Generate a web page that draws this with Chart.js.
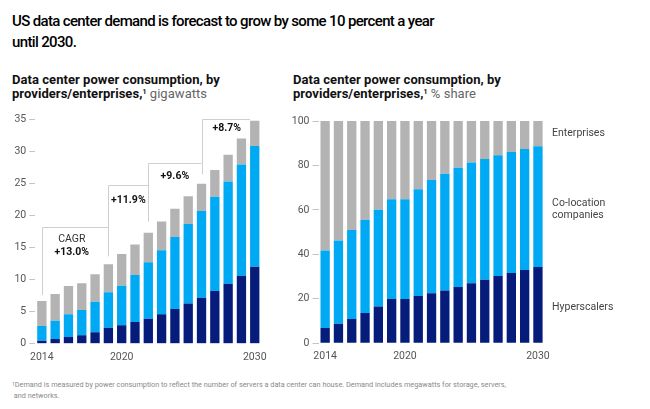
<!DOCTYPE html>
<html><head><meta charset="utf-8">
<script src="https://cdn.jsdelivr.net/npm/chart.js@4.4.1/dist/chart.umd.min.js"></script>
<style>
body{margin:0;background:#fff;width:650px;height:409px;overflow:hidden;position:relative;font-family:Roboto,"Liberation Sans",sans-serif;}
.title{position:absolute;left:12px;top:11px;font-size:15px;font-weight:500;line-height:21px;color:#000;letter-spacing:-0.65px;white-space:nowrap;}
.sub{position:absolute;top:73px;font-size:13px;font-weight:700;line-height:13.5px;color:#111;white-space:nowrap;letter-spacing:0.05px;}
.sub .u{font-weight:400;color:#666;}
.sub sup{font-size:7px;vertical-align:top;position:relative;top:-1px;font-weight:700;}
.foot{position:absolute;left:12px;top:379px;font-size:7.3px;color:#8a8a8a;line-height:11px;white-space:nowrap;}
.foot sup{font-size:5px;vertical-align:top;}
canvas{position:absolute;top:100px;}
#c1{left:0;}
#c2{left:280px;}
</style></head>
<body>
<div class="title">US data center demand is forecast to grow by some 10 percent a year<br>until 2030.</div>
<div class="sub" style="left:12px">Data center power consumption, by<br>providers/enterprises,<sup>1</sup> <span class="u">gigawatts</span></div>
<div class="sub" style="left:293px">Data center power consumption, by<br>providers/enterprises,<sup>1</sup> <span class="u">% share</span></div>
<div class="foot"><sup>1</sup>Demand is measured by power consumption to reflect the number of servers a data center can house. Demand includes megawatts for storage, servers,<br>&nbsp;and networks.</div>
<canvas id="c1" width="280" height="270"></canvas>
<canvas id="c2" width="370" height="270"></canvas>
<script>
const years = ['2014','2015','2016','2017','2018','2019','2020','2021','2022','2023','2024','2025','2026','2027','2028','2029','2030'];
const shownYears = ['2014','2020','2030'];

// Gigawatts
const hyperGW = [0.47,0.73,1.04,1.30,1.77,2.49,2.86,3.37,3.89,4.57,5.40,6.28,7.17,8.20,9.35,10.60,12.00];
const colocGW = [2.28,2.85,3.53,3.94,4.77,5.51,6.17,7.33,8.78,9.97,11.21,12.36,13.49,14.70,15.93,17.33,18.79];
const enterGW = [3.90,4.16,4.41,4.16,4.26,4.36,4.94,4.77,4.62,4.51,4.42,4.31,4.26,4.15,4.16,4.05,3.94];

// % share
const hyperPct = [6.9,8.8,10.9,13.6,16.5,19.9,19.9,21.3,22.5,23.8,25.3,27.0,28.6,30.3,31.6,33.0,34.3];
const colocPct = [34.9,37.5,40.1,42.0,43.6,44.9,44.9,48.0,51.0,52.5,53.7,54.3,54.3,54.3,54.5,54.4,54.3];
const enterPct = [58.2,53.7,49.0,44.4,39.9,35.2,35.2,30.7,26.5,23.7,21.0,18.7,17.1,15.4,13.9,12.6,11.4];

const leftTicks = [0,5,10,15,20,25,30,35];
const rightTicks = [0,20,40,60,80,100];

// CAGR brackets
const bracketIdx = [0,5,8,12,16];
const bracketBase = [7.6,13.6,19.0,26.4];
const bracketLevel = [18.2,24.7,28.2,35.0];
const cagrLabels = ['+13.0%','+11.9%','+9.6%','+8.7%'];
const cagrX = [2.25,6.5,10.0,13.9];
const cagrY = [14.2,22.4,26.0,33.5];
const cagrHeader = {text:'CAGR', x:2.25, y:16.3};

// Right-side series labels
const seriesLabels = [['Enterprises'],['Co-location','companies'],['Hyperscalers']];
const seriesLabelY = [94.6,60.2,16.3];

const C_HYPER = '#051c7a', C_COLO = '#00a9f4', C_ENT = '#b3b3b3';
const FONT = 'Roboto, "Liberation Sans", sans-serif';

function makeOptions(max, ticks, yWidth, xHeight, pad) {
  return {
    responsive:false, animation:false, maintainAspectRatio:false,
    layout:{padding:pad},
    plugins:{legend:{display:false}, tooltip:{enabled:false}},
    scales:{
      x:{stacked:true, grid:{display:false, drawTicks:false}, border:{display:false},
         ticks:{autoSkip:false, maxRotation:0, padding:7, color:'#555', font:{family:FONT,size:10.5},
           callback:(v,i)=> shownYears.includes(years[i]) ? years[i] : ''},
         afterFit:(s)=>{s.height = xHeight;}},
      y:{stacked:true, min:0, max:max, border:{display:false},
         grid:{drawOnChartArea:false, drawTicks:true, tickLength:6, color:'#c4c4c4', lineWidth:1},
         afterBuildTicks:(s)=>{s.ticks = ticks.map(v=>({value:v}));},
         ticks:{padding:3, color:'#555', font:{family:FONT,size:10.5}},
         afterFit:(s)=>{s.width = yWidth;}}
    }
  };
}

function datasets(h,c,e){
  return [
    {label:'Hyperscalers', data:h, backgroundColor:C_HYPER, barPercentage:0.7, categoryPercentage:1},
    {label:'Co-location companies', data:c, backgroundColor:C_COLO, barPercentage:0.7, categoryPercentage:1},
    {label:'Enterprises', data:e, backgroundColor:C_ENT, barPercentage:0.7, categoryPercentage:1}
  ];
}

const cagrPlugin = {
  id:'cagr',
  beforeDatasetsDraw(chart){
    const {ctx, scales:{x,y}} = chart;
    const bw = chart.getDatasetMeta(0).data[0].width;
    ctx.save();
    ctx.strokeStyle = '#cfcfcf'; ctx.lineWidth = 1;
    ctx.beginPath();
    for (let k=0;k<bracketBase.length;k++){
      const x0 = Math.round(x.getPixelForValue(bracketIdx[k]))+0.5;
      let x1 = x.getPixelForValue(bracketIdx[k+1]);
      if (k===bracketBase.length-1) x1 -= bw/2;
      const yl = Math.round(y.getPixelForValue(bracketLevel[k]))+0.5;
      ctx.moveTo(x0, y.getPixelForValue(bracketBase[k]));
      ctx.lineTo(x0, yl);
      ctx.lineTo(x1, yl);
    }
    ctx.stroke();
    ctx.restore();
  },
  afterDatasetsDraw(chart){
    const {ctx, scales:{x,y}} = chart;
    ctx.save();
    ctx.textAlign='center'; ctx.textBaseline='middle';
    ctx.fillStyle='#333';
    ctx.font = '400 10.5px '+FONT;
    ctx.fillText(cagrHeader.text, x.getPixelForValue(cagrHeader.x), y.getPixelForValue(cagrHeader.y));
    ctx.fillStyle='#111';
    ctx.font = '700 10.5px '+FONT;
    cagrLabels.forEach((t,i)=>ctx.fillText(t, x.getPixelForValue(cagrX[i]), y.getPixelForValue(cagrY[i])));
    ctx.restore();
  }
};

const sidePlugin = {
  id:'side',
  afterDatasetsDraw(chart){
    const {ctx, chartArea, scales:{y}} = chart;
    ctx.save();
    ctx.textAlign='left'; ctx.textBaseline='middle';
    ctx.fillStyle='#444'; ctx.font='400 10.5px '+FONT;
    seriesLabels.forEach((lines,i)=>{
      const yc = y.getPixelForValue(seriesLabelY[i]);
      const n = lines.length;
      lines.forEach((l,j)=>ctx.fillText(l, chartArea.right+7.5, yc + (j-(n-1)/2)*12.7));
    });
    ctx.restore();
  }
};

new Chart(document.getElementById('c1'), {
  type:'bar',
  data:{labels:years, datasets:datasets(hyperGW,colocGW,enterGW)},
  options:makeOptions(35, leftTicks, 35.2, 26.3, {left:0, top:19, right:18.6, bottom:0}),
  plugins:[cagrPlugin]
});

new Chart(document.getElementById('c2'), {
  type:'bar',
  data:{labels:years, datasets:datasets(hyperPct,colocPct,enterPct)},
  options:makeOptions(100, rightTicks, 38.5, 26.7, {left:0, top:21, right:105.4, bottom:0}),
  plugins:[sidePlugin]
});
</script>
</body></html>
